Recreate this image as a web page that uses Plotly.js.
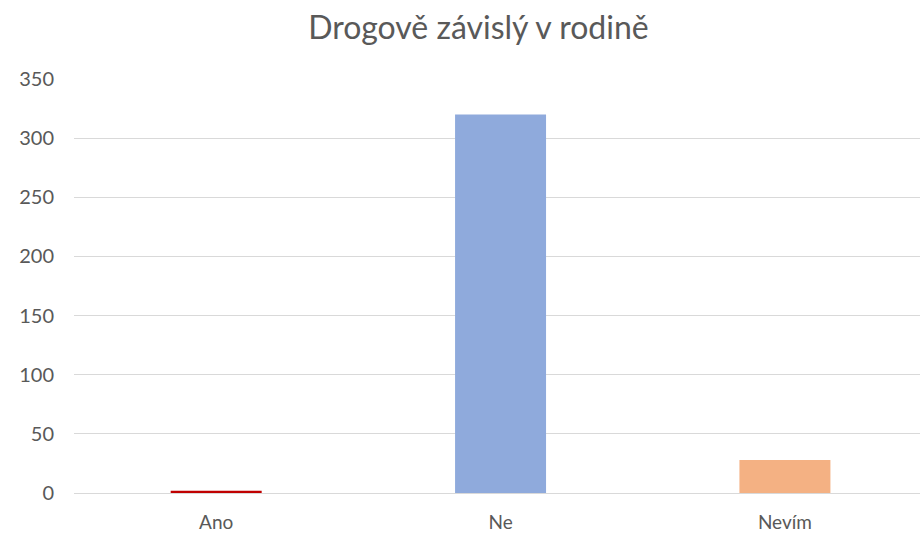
<!DOCTYPE html>
<html>
<head>
<meta charset="utf-8">
<script src="https://cdn.plot.ly/plotly-3.0.1.min.js"></script>
<style>html,body{margin:0;padding:0;background:#fff;}#chart{width:920px;height:533px;}</style>
</head>
<body>
<div id="chart"></div>
<script>
const categories = ["Ano", "Ne", "Nevím"];
const values = [2, 320, 28];
const barColors = ["#C00000", "#8FAADC", "#F4B183"];
const yTicks = [0, 50, 100, 150, 200, 250, 300, 350];

const FONT = "Lato, Open Sans, sans-serif";

const trace = {
  type: "bar",
  x: categories,
  y: values,
  width: 0.32,
  marker: {color: barColors, line: {width: 0}},
  hoverinfo: "x+y"
};

const layout = {
  width: 920,
  height: 533,
  margin: {l: 74, r: 0, t: 79, b: 40},
  paper_bgcolor: "#fff",
  plot_bgcolor: "#fff",
  showlegend: false,
  title: {
    text: "Drogově závislý v rodině",
    font: {family: FONT, size: 32, color: "#595959"},
    x: 0.52, xanchor: "center", y: 0.947, yanchor: "middle"
  },
  xaxis: {
    type: "category",
    range: [-0.5, 2.475],
    tickfont: {family: FONT, size: 19, color: "#595959"},
    showline: false, showgrid: false, zeroline: false, ticks: "",
    ticklabelstandoff: 16
  },
  yaxis: {
    range: [0, 350],
    tickvals: yTicks,
    ticktext: yTicks.map(String),
    tickfont: {family: FONT, size: 20, color: "#595959"},
    showgrid: true, gridcolor: "#D9D9D9", gridwidth: 1,
    zeroline: true, zerolinecolor: "#D9D9D9", zerolinewidth: 1,
    showline: false, ticks: "", ticklabelstandoff: 19
  }
};

Plotly.newPlot("chart", [trace], layout, {displayModeBar: false, staticPlot: true});
</script>
</body>
</html>
